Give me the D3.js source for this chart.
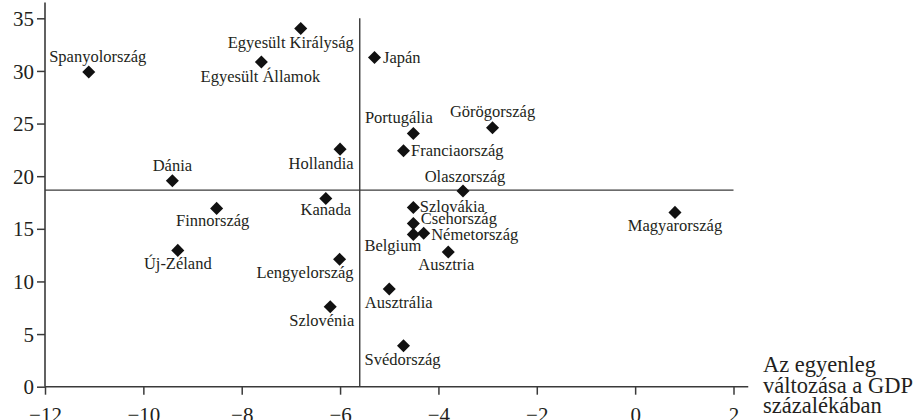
<!DOCTYPE html>
<html lang="hu">
<head>
  <meta charset="UTF-8">
  <title>egyenleg valtozasa</title>
  <script src="https://d3js.org/d3.v7.min.js"></script>
  <style>
    body { margin: 0; background: #fff; }
    svg text { font-family: "Liberation Serif", "Times New Roman", serif; fill: #231f20; }
    .lbl { font-size: 16.5px; }
    .tick text { font-size: 21px; }
    .axis-line { stroke: #3a3a3a; stroke-width: 1.6; }
    .ref-line { stroke: #3a3a3a; stroke-width: 1.4; }
  </style>
</head>
<body>
  <svg width="914" height="420"></svg>

  <script>
    // adatok
    let countries = ["Spanyolország", "Egyesült Királyság", "Egyesült Államok", "Japán",
      "Portugália", "Görögország", "Franciaország", "Hollandia", "Olaszország", "Dánia",
      "Finnország", "Kanada", "Szlovákia", "Csehország", "Németország", "Belgium",
      "Ausztria", "Lengyelország", "Ausztrália", "Szlovénia", "Svédország", "Új-Zéland",
      "Magyarország"];
    let xValues = [-11.11, -6.80, -7.60, -5.30, -4.51, -2.90, -4.71, -6.00, -3.50, -9.41,
      -8.51, -6.29, -4.51, -4.51, -4.30, -4.51, -3.80, -6.01, -5.00, -6.20, -4.71, -9.30, 0.81];
    let yValues = [29.9, 34.04, 30.84, 31.27, 24.06, 24.6, 22.41, 22.57, 18.6, 19.56,
      16.94, 17.89, 17.03, 15.51, 14.57, 14.47, 12.79, 12.1, 9.28, 7.6, 3.89, 12.95, 16.56];
    let xTicks = [-12, -10, -8, -6, -4, -2, 0, 2];
    let yTicks = [0, 5, 10, 15, 20, 25, 30, 35];
    let refX = -5.6;   // függőleges átlag
    let refY = 18.68;  // vízszintes átlag
    let xTitle = ["Az egyenleg", "változása a GDP", "százalékában"];

    // címke elhelyezés (dx, dy, anchor)
    let labelPos = {
      "Spanyolország": [9, -10, "middle"],
      "Egyesült Királyság": [-10, 20, "middle"],
      "Egyesült Államok": [-1, 20, "middle"],
      "Japán": [8.5, 5.5, "start"],
      "Portugália": [-14.5, -10.5, "middle"],
      "Görögország": [0, -10.5, "middle"],
      "Franciaország": [7.5, 5.5, "start"],
      "Hollandia": [13.5, 19.5, "end"],
      "Olaszország": [2, -9, "middle"],
      "Dánia": [0, -10, "middle"],
      "Finnország": [-4, 18, "middle"],
      "Kanada": [0, 17, "middle"],
      "Szlovákia": [6.5, 4.5, "start"],
      "Csehország": [7.5, 1, "start"],
      "Németország": [7.5, 6.5, "start"],
      "Belgium": [-20.5, 16.5, "middle"],
      "Ausztria": [-2, 17.5, "middle"],
      "Lengyelország": [14, 19, "end"],
      "Ausztrália": [9.5, 18.5, "middle"],
      "Szlovénia": [-8.5, 19.5, "middle"],
      "Svédország": [-1, 19.5, "middle"],
      "Új-Zéland": [0, 19, "middle"],
      "Magyarország": [0, 19, "middle"]
    };

    let svg = d3.select("svg");

    let x = d3.scaleLinear().domain([-12, 2]).range([45, 733.5]);
    let y = d3.scaleLinear().domain([0, 35]).range([386.7, 18.3]);

    // y tengely
    let yAxis = svg.append("g")
      .attr("transform", "translate(" + x(-12) + ",0)")
      .call(d3.axisLeft(y).tickValues(yTicks).tickSize(8).tickPadding(3).tickFormat(d3.format("d")));
    yAxis.select(".domain").remove();
    yAxis.selectAll(".tick line").attr("stroke", "#3a3a3a").attr("stroke-width", 1.5);
    yAxis.selectAll(".tick text").attr("fill", "#231f20").attr("dy", "0.34em");

    // x tengely
    let minus = v => v < 0 ? "\u2212" + Math.abs(v) : String(v);
    let xAxis = svg.append("g")
      .attr("transform", "translate(0," + y(0) + ")")
      .call(d3.axisBottom(x).tickValues(xTicks).tickSize(8).tickPadding(12).tickFormat(minus));
    xAxis.select(".domain").remove();
    xAxis.selectAll(".tick line").attr("stroke", "#3a3a3a").attr("stroke-width", 1.5);
    xAxis.selectAll(".tick text").attr("fill", "#231f20");

    // tengelyvonalak
    svg.append("line").attr("class", "axis-line")
      .attr("x1", x(-12)).attr("x2", x(-12))
      .attr("y1", y(0)).attr("y2", y(36.5));
    svg.append("line").attr("class", "axis-line")
      .attr("x1", x(-12)).attr("x2", x(2.3))
      .attr("y1", y(0)).attr("y2", y(0));

    // átlag vonalak
    svg.append("line").attr("class", "ref-line")
      .attr("x1", x(refX)).attr("x2", x(refX))
      .attr("y1", y(0)).attr("y2", y(35));
    svg.append("line").attr("class", "ref-line")
      .attr("x1", x(-12)).attr("x2", x(2))
      .attr("y1", y(refY)).attr("y2", y(refY));

    // pontok
    let diamond = d3.symbol().type(d3.symbolSquare).size(85);
    let pts = svg.append("g").selectAll("g")
      .data(countries)
      .join("g")
      .attr("transform", (d, i) => "translate(" + x(xValues[i]) + "," + y(yValues[i]) + ")");

    pts.append("path")
      .attr("d", diamond)
      .attr("transform", "rotate(45)")
      .attr("fill", "#111");

    pts.append("text")
      .attr("class", "lbl")
      .attr("x", d => labelPos[d][0])
      .attr("y", d => labelPos[d][1])
      .attr("text-anchor", d => labelPos[d][2])
      .text(d => d);

    // x tengely cím
    svg.append("text")
      .attr("x", 763)
      .attr("y", 372)
      .style("font-size", "22.5px")
      .selectAll("tspan")
      .data(xTitle)
      .join("tspan")
      .attr("x", 763)
      .attr("dy", (d, i) => i == 0 ? 0 : 20.5)
      .text(d => d);
  </script>
</body>
</html>
